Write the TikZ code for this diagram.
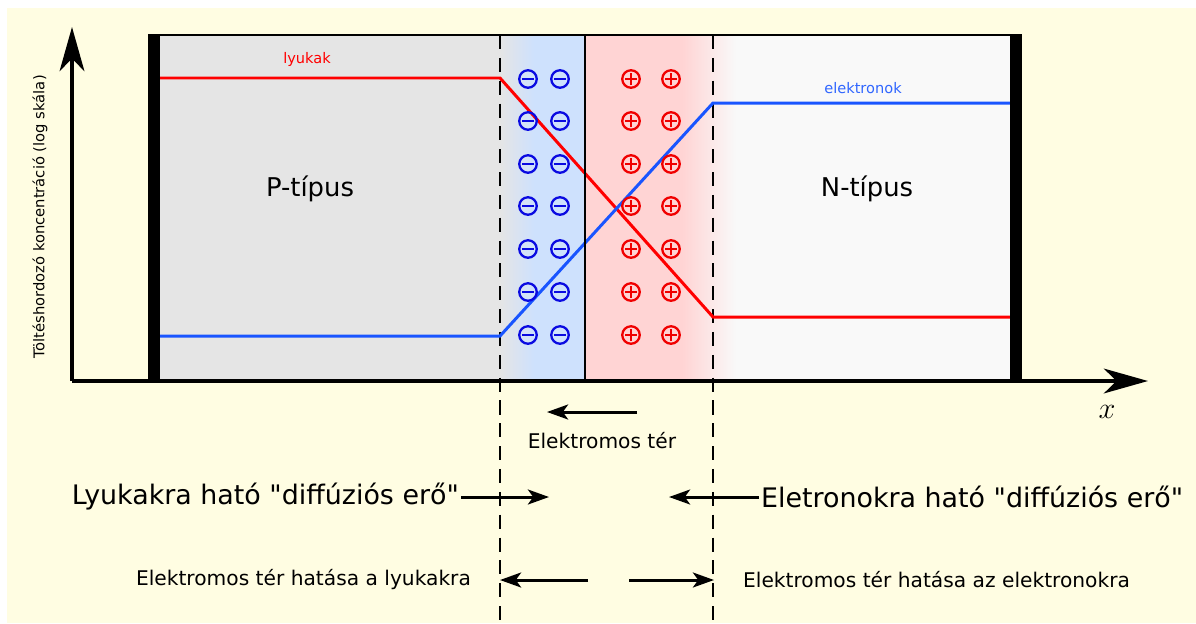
\documentclass[tikz,border=0pt]{standalone}
\usepackage{fontspec}
\setmainfont{DejaVu Sans}[Ligatures=TeXOff]
\usetikzlibrary{arrows.meta,positioning}

\definecolor{bgcream}{RGB}{255,253,226}
\definecolor{pgray}{RGB}{229,229,229}
\definecolor{ngray}{RGB}{249,249,249}
\definecolor{depblue}{RGB}{206,225,253}
\definecolor{deppink}{RGB}{255,212,212}
\definecolor{holered}{RGB}{255,0,0}
\definecolor{elblue}{RGB}{25,85,255}
\definecolor{negblue}{RGB}{10,10,225}
\definecolor{posred}{RGB}{240,0,0}

\begin{document}
\begin{tikzpicture}[x=0.02cm,y=-0.02cm,
    axisarrow/.style={line width=2.6pt,-{Stealth[length=25pt,width=14pt,inset=7pt]}},
    forcearrow/.style={line width=1.7pt,-{Stealth[length=12pt,width=8.5pt,inset=3pt]}}]
  \tikzstyle{bigtext}=[font=\fontsize{15.3pt}{18pt}\selectfont,inner sep=1pt]
  \tikzstyle{typetext}=[font=\fontsize{14.7pt}{17pt}\selectfont,inner sep=1pt]
  \tikzstyle{smalltext}=[font=\fontsize{11.5pt}{13pt}\selectfont,inner sep=1pt]
  \tikzstyle{tinytext}=[font=\fontsize{8.3pt}{10pt}\selectfont,inner sep=1pt]
  \tikzstyle{negcharge}=[circle,draw=negblue,line width=1.3pt,minimum size=0.35cm,inner sep=0pt,
    path picture={\draw[negblue,line width=1.3pt]
      ([xshift=-0.12cm]path picture bounding box.center) -- ([xshift=0.12cm]path picture bounding box.center);}]
  \tikzstyle{poscharge}=[circle,draw=posred,line width=1.3pt,minimum size=0.35cm,inner sep=0pt,
    path picture={\draw[posred,line width=1.3pt]
      ([xshift=-0.12cm]path picture bounding box.center) -- ([xshift=0.12cm]path picture bounding box.center)
      ([yshift=-0.12cm]path picture bounding box.center) -- ([yshift=0.12cm]path picture bounding box.center);}]
  \tikzstyle{junction}=[black,line width=0.9pt,dash pattern=on 8pt off 5pt]

  \useasboundingbox (0,0) rectangle (1196,623);
  \fill[bgcream] (7,8) rectangle (1196,623);

  % regions
  \fill[pgray] (160,35) rectangle (500,380);
  \fill[depblue] (500,35) rectangle (585,380);
  \shade[left color=pgray,right color=depblue] (500,35) rectangle (534,380);
  \fill[deppink] (585,35) rectangle (682,380);
  \fill[ngray] (713,35) rectangle (1010,380);
  \shade[left color=deppink,right color=ngray] (682,35) rectangle (736,380);

  % depletion edges
  \coordinate (jlt) at (500,35);
  \coordinate (jlb) at (500,623);
  \coordinate (jrt) at (713,35);
  \coordinate (jrb) at (713,623);
  \draw[junction] (jlt) -- (jlb);
  \draw[junction] (jrt) -- (jrb);

  % carrier concentrations
  \draw[holered,line width=1.7pt] (160,78) -- (500,78) -- (713,317) -- (1010,317);
  \draw[elblue,line width=1.7pt] (160,336) -- (500,336) -- (713,103) -- (1010,103);
  \node[tinytext,text=holered] (holes) at (307,59) {lyukak};
  \node[tinytext,text=elblue!90] (electrons) at (863,88) {elektronok};

  % fixed charges
  \foreach \r [count=\i] in {79,121,164,206,249,292,335} {
    \node[negcharge] (m\i a) at (528,\r) {};
    \node[negcharge] (m\i b) at (560,\r) {};
    \node[poscharge] (p\i a) at (631,\r) {};
    \node[poscharge] (p\i b) at (671,\r) {};
  }

  % crystal outline
  \draw[line width=1.7pt] (148,35) -- (1022,35);
  \fill (148,35) rectangle (160,380);
  \fill (1010,35) rectangle (1022,380);
  \draw[line width=1.6pt] (585,35) -- (585,380);

  \node[typetext] (ptype) at (310,189) {P-típus};
  \node[typetext] (ntype) at (867,189) {N-típus};

  % axes
  \coordinate (origin) at (72,381);
  \coordinate (ytip) at (72,27);
  \coordinate (xtip) at (1148,381);
  \draw[axisarrow] (origin) -- (ytip);
  \draw[axisarrow] (origin) -- (xtip);
  \node[font=\fontsize{18pt}{20pt}\selectfont] (xlab) at (1107,412) {$x$};
  \node[tinytext,font=\fontsize{8.4pt}{10pt}\selectfont,rotate=90] (ylab) at (40,217) {Töltéshordozó koncentráció (log skála)};

  % field
  \coordinate (efstart) at (637,412);
  \coordinate (efend) at (547,412);
  \draw[forcearrow] (efstart) -- (efend);
  \node[smalltext] (eflab) at (602,441) {Elektromos tér};

  % diffusion forces
  \node[bigtext,anchor=east] (holediff) at (461,497) {Lyukakra ható "diffúziós erő"};
  \coordinate (holediffend) at (549,497);
  \draw[forcearrow] (holediff.east) -- (holediffend);
  \node[bigtext,anchor=west] (eldiff) at (759,497) {Eletronokra ható "diffúziós erő"};
  \coordinate (eldiffend) at (669,497);
  \draw[forcearrow] (eldiff.west) -- (eldiffend);

  % field forces
  \node[smalltext,anchor=east] (holefield) at (473,580) {Elektromos tér hatása a lyukakra};
  \coordinate (hfstart) at (588,580);
  \coordinate (hfend) at (500,580);
  \draw[forcearrow] (hfstart) -- (hfend);
  \node[smalltext,anchor=west] (elfield) at (741,580) {Elektromos tér hatása az elektronokra};
  \coordinate (efldstart) at (629,580);
  \coordinate (efldend) at (714,580);
  \draw[forcearrow] (efldstart) -- (efldend);
\end{tikzpicture}
\end{document}
